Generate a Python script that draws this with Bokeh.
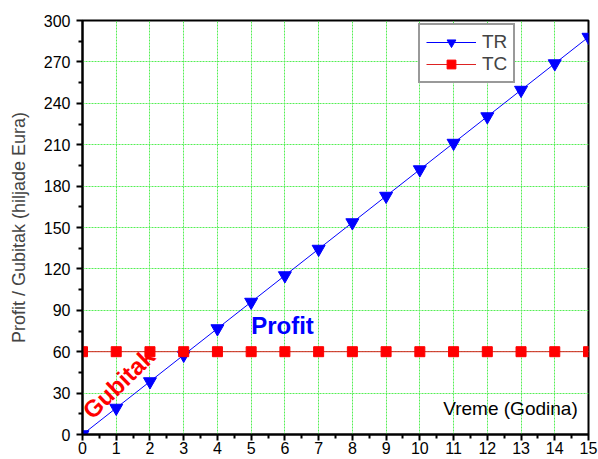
from bokeh.plotting import figure
from bokeh.models import Range1d, FixedTicker, Legend, LegendItem, Label
from bokeh.embed import file_html
from bokeh.resources import INLINE

years = [0, 1, 2, 3, 4, 5, 6, 7, 8, 9, 10, 11, 12, 13, 14, 15]
tr = [0, 19.2, 38.4, 57.6, 76.8, 96, 115.2, 134.4, 153.6, 172.8, 192, 211.2, 230.4, 249.6, 268.8, 288]
tc = [60, 60, 60, 60, 60, 60, 60, 60, 60, 60, 60, 60, 60, 60, 60, 60]
y_ticks = [0, 30, 60, 90, 120, 150, 180, 210, 240, 270, 300]
x_ticks = list(range(0, 16))

FONT = "Liberation Sans"

p = figure(width=598, height=459, output_backend="svg", toolbar_location=None,
           x_range=Range1d(0, 15), y_range=Range1d(0, 300),
           min_border_top=20, min_border_right=10, min_border_left=82, min_border_bottom=25)
p.outline_line_color = "black"
p.outline_line_width = 2
p.background_fill_color = "white"
p.border_fill_color = "white"

for ax in (p.xaxis[0], p.yaxis[0]):
    ax.axis_line_width = 2
    ax.axis_line_color = "black"
    ax.major_tick_line_width = 2
    ax.minor_tick_line_width = 2
    ax.major_tick_in = 0
    ax.minor_tick_in = 0
    ax.major_tick_out = 6
    ax.minor_tick_out = 4
    ax.major_label_text_font = FONT
    ax.major_label_text_font_size = "16px"
    ax.major_label_text_color = "black"

p.xaxis[0].ticker = FixedTicker(ticks=x_ticks, minor_ticks=[i + 0.5 for i in range(15)])
p.yaxis[0].ticker = FixedTicker(ticks=y_ticks, minor_ticks=[v + 15 for v in y_ticks[:-1]])
p.xaxis[0].major_label_standoff = 1
p.yaxis[0].major_label_standoff = 6
p.yaxis[0].axis_label = "Profit / Gubitak (hiljade Eura)"
p.yaxis[0].axis_label_text_font = FONT
p.yaxis[0].axis_label_text_font_size = "18px"
p.yaxis[0].axis_label_text_font_style = "normal"
p.yaxis[0].axis_label_standoff = 12

for g in (p.xgrid[0], p.ygrid[0]):
    g.grid_line_color = "#55ee55"
    g.grid_line_dash = "2 1"
    g.grid_line_width = 1

r_tr_line = p.line(years, tr, line_color="#0000ff", line_width=1)
r_tr_pts = p.scatter(years, tr, marker="inverted_triangle", size=13, fill_color="#0000ff", line_color="#0000ff")
r_tc_line = p.line(years, tc, line_color="#dd2222", line_width=1)
r_tc_pts = p.scatter(years, tc, marker="square", size=10, fill_color="#ff0000", line_color="#ff0000")

legend = Legend(items=[LegendItem(label="TR", renderers=[r_tr_line, r_tr_pts]),
                       LegendItem(label="TC", renderers=[r_tc_line, r_tc_pts])],
                location=(336, 351), border_line_color="#333333", border_line_width=2,
                label_text_font=FONT, label_text_font_size="19px",
                glyph_width=50, glyph_height=22, spacing=0, padding=6, margin=0,
                label_standoff=6, background_fill_alpha=1)
p.add_layout(legend)

p.add_layout(Label(x=5.0, y=79, text="Profit", text_color="#0000ff", text_font=FONT,
                   text_font_size="24px", text_font_style="bold", text_baseline="middle"))
p.add_layout(Label(x=0.12, y=14.5, text="Gubitak", text_color="#ff0000", text_font=FONT,
                   text_font_size="24px", text_font_style="bold", angle=0.77,
                   text_baseline="alphabetic"))
p.add_layout(Label(x=14.68, y=19, text="Vreme (Godina)", text_color="black", text_font=FONT,
                   text_font_size="19px", text_align="right", text_baseline="middle"))

open("out.html", "w").write(file_html(p, INLINE))
